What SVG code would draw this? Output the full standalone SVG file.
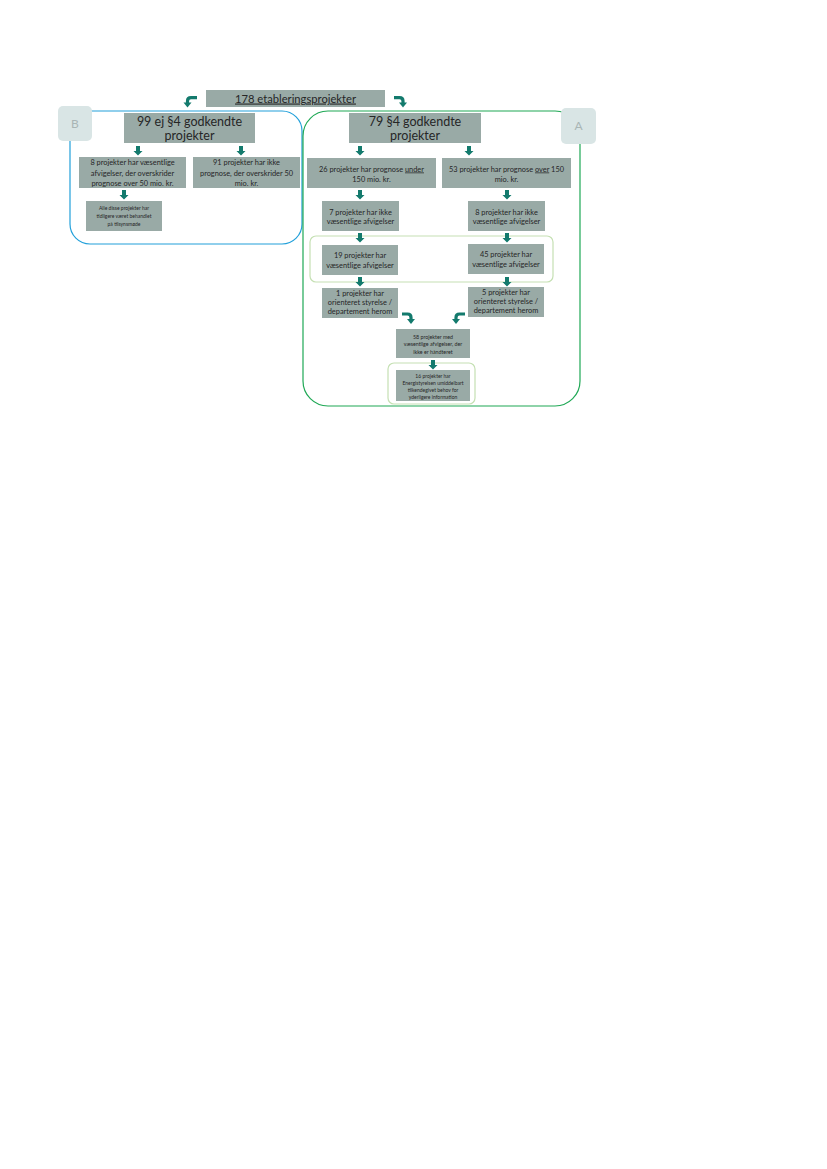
<svg xmlns="http://www.w3.org/2000/svg" width="827" height="1169" viewBox="0 0 827 1169">
<style>
.box{fill:#99aaa6;}
.t{font-family:Lato,"Open Sans",sans-serif;fill:#262626;text-anchor:middle;}
.f12{font-size:12.5px;}
.f7{font-size:7.4px;}
.f5{font-size:5px;}
.f55{font-size:5.3px;}
.blue{fill:none;stroke:#22a0da;stroke-width:1.2;}
.green{fill:none;stroke:#1fa855;stroke-width:1.2;}
.lg{fill:none;stroke:#c5e0b3;stroke-width:1.2;}
.badge{fill:#d9e5e5;}
.bt{font-family:Lato,"Open Sans",sans-serif;font-size:12px;fill:#a9b5b5;text-anchor:middle;}
.ar{fill:#137a6d;}
.bend{fill:none;stroke:#137a6d;stroke-width:3.2;}
</style>
<defs>
<path id="down" d="M-2,0 H2 V5 H4.5 L0,9.5 L-4.5,5 H-2 Z" class="ar"/>
</defs>
<rect width="827" height="1169" fill="#ffffff"/>

<g id="containers">
<rect class="blue" x="70" y="111" width="232" height="133" rx="20"/>
<rect class="green" x="303" y="111" width="277" height="295" rx="25"/>
<rect class="lg" x="310" y="236" width="243" height="46" rx="6"/>
<rect class="lg" x="388" y="363" width="87" height="41" rx="6"/>
</g>

<g id="badgeB"><rect class="badge" x="58" y="106" width="34" height="35" rx="5"/><text class="bt" x="75" y="128">B</text></g>
<g id="badgeA"><rect class="badge" x="561" y="108" width="35" height="36" rx="5"/><text class="bt" x="578.5" y="130">A</text></g>

<g id="n178"><rect class="box" x="206" y="90" width="179" height="17"/><text class="t" x="295.5" y="102.5" style="font-size:11.2px;text-decoration:underline">178 etableringsprojekter</text></g>

<g id="n99"><rect class="box" x="124" y="113" width="131" height="30"/><text class="t f12" x="189.5" y="126">99 ej §4 godkendte</text><text class="t f12" x="189.5" y="139.5">projekter</text></g>

<g id="n8a"><rect class="box" x="79" y="157" width="107" height="31"/><text class="t f7" x="132.5" y="165">8 projekter har væsentlige</text><text class="t f7" x="132.5" y="175.5">afvigelser, der overskrider</text><text class="t f7" x="132.5" y="186">prognose over 50 mio. kr.</text></g>

<g id="n91"><rect class="box" x="193" y="157" width="107" height="31"/><text class="t f7" x="246.5" y="165">91 projekter har ikke</text><text class="t f7" x="246.5" y="175.5">prognose, der overskrider 50</text><text class="t f7" x="246.5" y="186">mio. kr.</text></g>

<g id="nAlle"><rect class="box" x="86" y="201" width="76" height="30"/><text class="t f5" x="124" y="210">Alle disse projekter har</text><text class="t f5" x="124" y="218">tidligere været behandlet</text><text class="t f5" x="124" y="225.5">på tilsynsmøde</text></g>

<g id="n79"><rect class="box" x="349" y="113" width="132" height="30"/><text class="t f12" x="415" y="126">79 §4 godkendte</text><text class="t f12" x="415" y="139.5">projekter</text></g>

<g id="n26"><rect class="box" x="307" y="158" width="129" height="30"/><text class="t f7" x="371.5" y="171.5">26 projekter har prognose <tspan text-decoration="underline">under</tspan></text><text class="t f7" x="371.5" y="181.5">150 mio. kr.</text></g>

<g id="n53"><rect class="box" x="442" y="158" width="129" height="30"/><text class="t f7" x="506.5" y="171.5">53 projekter har prognose <tspan text-decoration="underline">over</tspan> 150</text><text class="t f7" x="506.5" y="181.5">mio. kr.</text></g>

<g id="n7"><rect class="box" x="322" y="201" width="77" height="30"/><text class="t f7" x="360.5" y="214.5">7 projekter har ikke</text><text class="t f7" x="360.5" y="223.5">væsentlige afvigelser</text></g>

<g id="n8b"><rect class="box" x="468" y="201" width="77" height="30"/><text class="t f7" x="506.5" y="214.5">8 projekter har ikke</text><text class="t f7" x="506.5" y="223.5">væsentlige afvigelser</text></g>

<g id="n19"><rect class="box" x="322" y="245" width="76" height="30"/><text class="t f7" x="360" y="257.5">19 projekter har</text><text class="t f7" x="360" y="267.5">væsentlige afvigelser</text></g>

<g id="n45"><rect class="box" x="468" y="244" width="76" height="30"/><text class="t f7" x="506" y="257">45 projekter har</text><text class="t f7" x="506" y="266.5">væsentlige afvigelser</text></g>

<g id="n1"><rect class="box" x="322" y="288" width="76" height="30"/><text class="t f7" x="360" y="295.5">1 projekter har</text><text class="t f7" x="360" y="305">orienteret styrelse /</text><text class="t f7" x="360" y="314">departement herom</text></g>

<g id="n5"><rect class="box" x="468" y="287" width="76" height="30"/><text class="t f7" x="506" y="294.5">5 projekter har</text><text class="t f7" x="506" y="304.3">orienteret styrelse /</text><text class="t f7" x="506" y="313.3">departement herom</text></g>

<g id="n58"><rect class="box" x="396" y="329" width="74" height="29"/><text class="t f55" x="433" y="339">58 projekter med</text><text class="t f55" x="433" y="346.3">væsentlige afvigelser, der</text><text class="t f55" x="433" y="353.7">ikke er håndteret</text></g>

<g id="n16"><rect class="box" x="396" y="370" width="74" height="31"/><text class="t f5" x="433" y="378">16 projekter har</text><text class="t f5" x="433" y="385">Energistyrelsen umiddelbart</text><text class="t f5" x="433" y="392">tilkendegivet behov for</text><text class="t f5" x="433" y="399">yderligere information</text></g>

<g id="connectors">
<use href="#down" x="138" y="146"/>
<use href="#down" x="241" y="146"/>
<use href="#down" x="124" y="190"/>
<use href="#down" x="360" y="146"/>
<use href="#down" x="469" y="146"/>
<use href="#down" x="360" y="190"/>
<use href="#down" x="507" y="190"/>
<use href="#down" x="360" y="233"/>
<use href="#down" x="507" y="233"/>
<use href="#down" x="360" y="277"/>
<use href="#down" x="507" y="277"/>
<use href="#down" x="433" y="360"/>
<path class="bend" d="M197,97.6 H191 Q187.5,97.6 187.5,101 V103"/>
<path class="ar" d="M183.5,102.5 H191.5 L187.5,107.5 Z"/>
<path class="bend" d="M394,97.6 H399.5 Q403,97.6 403,101 V103"/>
<path class="ar" d="M399,102.5 H407 L403,107.5 Z"/>
<path class="bend" d="M402,314 H407.5 Q411,314 411,317.5 V319.5"/>
<path class="ar" d="M407,319 H415 L411,324 Z"/>
<path class="bend" d="M465,314 H459.5 Q456,314 456,317.5 V319.5"/>
<path class="ar" d="M452,319 H460 L456,324 Z"/>
</g>
</svg>
